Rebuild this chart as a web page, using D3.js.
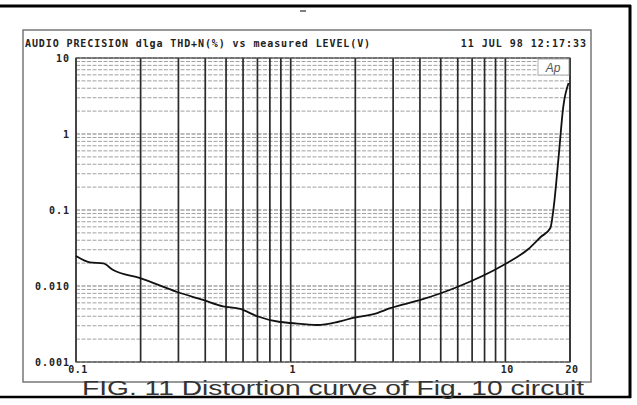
<!DOCTYPE html>
<html><head><meta charset="utf-8">
<script src="https://cdn.jsdelivr.net/npm/d3@7"></script>
<style>body{margin:0;background:#fff}svg{display:block}</style>
</head><body>
<script>
const levelV = [0.1,0.116,0.134,0.149,0.199,0.296,0.391,0.484,0.582,0.698,0.893,1.0,1.33,1.65,1.95,2.53,2.91,4.02,5.97,9.8,12.8,14.6,16.2,16.8,17.7,18.6,19.7];
const thdN   = [0.0248,0.0205,0.0198,0.0162,0.0127,0.00834,0.00655,0.0054,0.0050,0.0040,0.00336,0.00326,0.00307,0.00336,0.0038,0.00441,0.0051,0.00655,0.0097,0.0189,0.0307,0.0441,0.058,0.11,0.5,2.26,4.68];
const yTicks = [10,1,0.1,0.01,0.001];
const yTickLabels = ["10","1","0.1","0.010","0.001"];
const xTicks = [0.1,1,10,20];
const xTickLabels = ["0.1","1","10","20"];
const headerLeft = "AUDIO PRECISION dlga THD+N(%) vs measured LEVEL(V)";
const headerRight = "11 JUL 98 12:17:33";
const caption = "FIG. 11 Distortion curve of Fig. 10 circuit";

const W=637,H=405;
const svg=d3.select("body").append("svg").attr("width",W).attr("height",H);
const x=d3.scaleLog().domain([0.1,20]).range([76,570]);
const y=d3.scaleLog().domain([0.001,10]).range([362,58]);

// outer black frame
svg.append("line").attr("x1",0).attr("x2",631).attr("y1",6).attr("y2",6).attr("stroke","#000").attr("stroke-width",3);
svg.append("line").attr("x1",630).attr("x2",630).attr("y1",5).attr("y2",398).attr("stroke","#000").attr("stroke-width",3);
svg.append("line").attr("x1",0).attr("x2",631).attr("y1",397).attr("y2",397).attr("stroke","#000").attr("stroke-width",2.5);
svg.append("line").attr("x1",300).attr("x2",306).attr("y1",11).attr("y2",11).attr("stroke","#555").attr("stroke-width",1.5);

// inner gray box
svg.append("rect").attr("x",23).attr("y",30).attr("width",568).attr("height",352)
  .attr("fill","none").attr("stroke","#777").attr("stroke-width",1.5);

// horizontal grid
const hVals=[];
for(let e=-3;e<1;e++){for(let m=1;m<10;m++){hVals.push(m*Math.pow(10,e));}}
hVals.push(10);
svg.append("g").selectAll("line").data(hVals).join("line")
  .attr("x1",76).attr("x2",570).attr("y1",d=>y(d)).attr("y2",d=>y(d))
  .attr("stroke",d=>Math.abs(Math.log10(d)%1)<1e-6?"#777":"#a0a0a0")
  .attr("stroke-width",1).attr("stroke-dasharray","4,1.5");

// vertical grid
const vVals=[];
for(let e=-1;e<2;e++){for(let m=1;m<10;m++){const v=m*Math.pow(10,e); if(v<=20.0001) vVals.push(v);}}
vVals.push(20);
svg.append("g").selectAll("line").data(vVals).join("line")
  .attr("x1",d=>x(d)).attr("x2",d=>x(d)).attr("y1",58).attr("y2",362)
  .attr("stroke","#2a2a2a").attr("stroke-width",1.7);

// plot border
svg.append("rect").attr("x",76).attr("y",58).attr("width",494).attr("height",304)
  .attr("fill","none").attr("stroke","#444").attr("stroke-width",1.2);

// Ap logo
svg.append("rect").attr("x",538).attr("y",59).attr("width",31).attr("height",16).attr("fill","#fff").attr("stroke","#999").attr("stroke-width",0.8);
svg.append("text").attr("x",553).attr("y",72).attr("text-anchor","middle")
  .attr("font-family","Liberation Sans").attr("font-style","italic").attr("font-size",12).attr("fill","#555").text("Ap");

// curve
const line=d3.line().x(d=>x(d[0])).y(d=>y(d[1])).curve(d3.curveMonotoneX);
svg.append("path").datum(levelV.map((v,i)=>[v,thdN[i]])).attr("d",line)
  .attr("fill","none").attr("stroke","#111").attr("stroke-width",1.8);

const mono={"font-family":"DejaVu Sans Mono","font-weight":"bold","font-size":10};
function applyMono(s){Object.entries(mono).forEach(([k,v])=>s.attr(k,v)); return s;}

// header
applyMono(svg.append("text").attr("x",25).attr("y",47).attr("letter-spacing",0.9).attr("fill","#222").text(headerLeft));
applyMono(svg.append("text").attr("x",587).attr("y",47).attr("text-anchor","end").attr("letter-spacing",1).attr("fill","#222").text(headerRight));

// y tick labels
yTicks.forEach((t,i)=>{
  applyMono(svg.append("text").attr("x",70).attr("y",y(t)+3.5).attr("text-anchor","end").attr("letter-spacing",1).attr("fill","#222").text(yTickLabels[i]));
});
// x tick labels
xTicks.forEach((t,i)=>{
  applyMono(svg.append("text").attr("x",x(t)+2).attr("y",373).attr("text-anchor","middle").attr("letter-spacing",0.5).attr("fill","#222").attr("font-size",9.5).text(xTickLabels[i]));
});

// caption
svg.append("text").attr("x",82).attr("y",395).attr("font-family","Liberation Sans").attr("font-size",21)
  .attr("fill","#333").attr("textLength",502).attr("lengthAdjust","spacingAndGlyphs").text(caption);
</script>
</body></html>
